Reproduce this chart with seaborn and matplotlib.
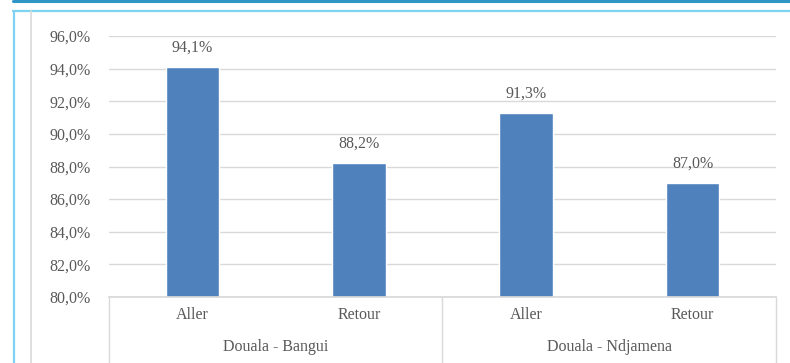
import matplotlib
matplotlib.use("Agg")
import matplotlib.pyplot as plt
from matplotlib.lines import Line2D
from matplotlib.ticker import FuncFormatter, MultipleLocator
import seaborn as sns
import pandas as pd

# Taux par trajet et par sens
trajets = ["Douala - Bangui", "Douala - Bangui", "Douala - Ndjamena", "Douala - Ndjamena"]
sens = ["Aller", "Retour", "Aller", "Retour"]
taux = [94.1, 88.2, 91.3, 87.0]
groupes = ["Douala - Bangui", "Douala - Ndjamena"]

df = pd.DataFrame({"trajet": trajets, "sens": sens, "taux": taux})
df["cle"] = df["trajet"] + " | " + df["sens"]

sns.set_theme(style="white")
plt.rcParams["font.family"] = ["Liberation Serif", "DejaVu Serif"]

W, H = 790, 363
fig = plt.figure(figsize=(W / 100, H / 100), dpi=100)
ax = fig.add_axes([109 / W, 1 - 297 / H, (776 - 109) / W, (297 - 36) / H])

txt = "#595959"
grid = "#d9d9d9"
fs = 11.5

sns.barplot(data=df, x="cle", y="taux", order=list(df["cle"]), color="#4F81BD",
            width=0.32, ax=ax, saturation=1, errorbar=None)

ax.set_ylim(80, 96)
ax.set_xlim(-0.5, len(df) - 0.5)
ax.yaxis.set_major_locator(MultipleLocator(2))
ax.yaxis.set_major_formatter(FuncFormatter(lambda v, p: f"{v:.1f}%".replace(".", ",")))
ax.yaxis.grid(True, color=grid, linewidth=1)
ax.set_axisbelow(True)
for s in ["top", "right", "left"]:
    ax.spines[s].set_visible(False)
ax.spines["bottom"].set_color(grid)
ax.tick_params(axis="y", length=0, pad=13, labelsize=fs, labelcolor=txt)
ax.tick_params(axis="x", length=0, pad=7, labelsize=fs, labelcolor=txt)
ax.set_xticks(range(len(df)))
ax.set_xticklabels(sens)
ax.set_xlabel("")
ax.set_ylabel("")

# Étiquettes de valeur
ax.bar_label(ax.containers[0], labels=[f"{v:.1f}%".replace(".", ",") for v in taux],
             padding=8, fontsize=fs, color=txt)

# Séparateurs et libellés des trajets
bas = -(363 - 297) / (297 - 36)
for xpos in [-0.5, 1.5, 3.5]:
    ax.add_line(Line2D([xpos, xpos], [0, bas], transform=ax.get_xaxis_transform(),
                       color=grid, linewidth=1, clip_on=False))
for i, g in enumerate(groupes):
    ax.text(2 * i + 0.5, -(347 - 297) / (297 - 36), g, transform=ax.get_xaxis_transform(),
            ha="center", va="center", fontsize=fs, color=txt)

# Cadre de la zone
fig.add_artist(Line2D([13 / W, 1], [1 - 1 / H, 1 - 1 / H], color="#2E96C6", linewidth=2.2))
fig.add_artist(Line2D([13 / W, 1], [1 - 10.5 / H, 1 - 10.5 / H], color="#7FD3F2", linewidth=1.6))
fig.add_artist(Line2D([13.5 / W, 13.5 / W], [0, 1 - 10.5 / H], color="#7FD3F2", linewidth=1.6))
fig.add_artist(Line2D([31 / W, 31 / W], [0, 1 - 11 / H], color=grid, linewidth=1.2))

fig.savefig("out.png", dpi=100)
